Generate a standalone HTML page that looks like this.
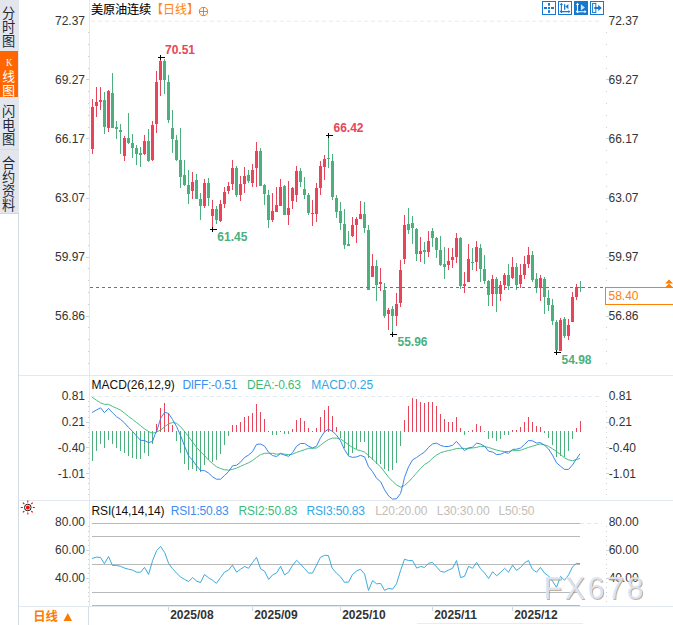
<!DOCTYPE html>
<html><head><meta charset="utf-8"><title>chart</title>
<style>html,body{margin:0;padding:0;background:#fff;}body{width:673px;height:625px;overflow:hidden;font-family:"Liberation Sans",sans-serif;}</style>
</head><body>
<svg width="673" height="625" viewBox="0 0 673 625" style="display:block">
<rect width="673" height="625" fill="#fff"/>
<g shape-rendering="crispEdges">
<rect x="0" y="0" width="19" height="214" fill="#e4e6ee"/>
<rect x="0" y="51" width="18" height="46" fill="#ff6600"/>
<rect x="0" y="149" width="19" height="1" fill="#d3dde6"/>
<rect x="0" y="213" width="19" height="1" fill="#cfd8e1"/>
<rect x="18" y="214" width="1" height="411" fill="#d3dce5"/>
<rect x="19" y="375" width="654" height="1" fill="#e1e8ef"/>
<rect x="19" y="500" width="654" height="1" fill="#e1e8ef"/>
<rect x="19" y="606" width="654" height="1" fill="#e1e8ef"/>
<rect x="89" y="0" width="1" height="606" fill="#e1e8ef"/>
<rect x="88" y="606" width="1" height="19" fill="#d5dde6"/>
<rect x="417" y="623" width="166" height="1" fill="#e6edf3"/>
</g>
<g font-family="Liberation Sans, Noto Sans CJK SC, sans-serif" font-size="13.2" fill="#232a36">
<text x="2.1" y="18.02">分</text>
<text x="2.1" y="32.02">时</text>
<text x="2.1" y="46.02">图</text>
</g>
<text transform="translate(9.1 65.8) scale(0.8 1)" font-family="Liberation Serif, serif" font-size="11" fill="#fff" text-anchor="middle">K</text>
<g font-family="Liberation Sans, Noto Sans CJK SC, sans-serif" font-size="12.8" fill="#fff">
<text x="2.3" y="81.06">线</text>
<text x="2.3" y="95.06">图</text>
</g>
<g font-family="Liberation Sans, Noto Sans CJK SC, sans-serif" font-size="13.2" fill="#232a36">
<text x="2.1" y="116.02">闪</text>
<text x="2.1" y="130.02">电</text>
<text x="2.1" y="144.02">图</text>
<text x="2.1" y="168.02">合</text>
<text x="2.1" y="182.02">约</text>
<text x="2.1" y="196.02">资</text>
<text x="2.1" y="210.02">料</text>
</g>
<text x="91 103 115 127 139" y="14.4" font-family="Liberation Sans, Noto Sans CJK SC, sans-serif" font-size="12.2" fill="#000" stroke="#000" stroke-width="0.1">美原油连续</text>
<text x="151 163 175 187" y="14.3" font-family="Liberation Sans, Noto Sans CJK SC, sans-serif" font-size="12" fill="#ff8418">【日线】</text>
<g stroke="#ff7a00" stroke-width="1" fill="none"><circle cx="203.5" cy="11.5" r="4.2"/><path d="M199.3 11.5H207.7M203.5 7.3V15.7"/></g>
<g>
<rect x="542.5" y="1.5" width="13" height="13" fill="#fff" stroke="#1878d0" stroke-width="1"/>
<g fill="#1878d0"><rect x="548" y="7" width="2" height="2"/><rect x="544" y="7" width="3" height="2"/><rect x="551" y="7" width="3" height="2"/><rect x="548" y="3" width="2" height="2.7"/><rect x="548" y="10.2" width="2" height="2.6"/></g>
<rect x="558.5" y="1.5" width="13" height="13" fill="#fff" stroke="#1878d0" stroke-width="1"/>
<g stroke="#1878d0" stroke-width="1.1" fill="none"><path d="M561.4 3.6V12.4M560.2 11.6H569.6"/></g>
<g fill="#1878d0"><path d="M561.4 2.8L563 5H559.8ZM561.4 13.2L563 11.6H559.8ZM570.4 11.6L568.4 10V13.2ZM559.6 11.6L561 10.2V13Z"/><rect x="564" y="4.2" width="1.3" height="5.6"/><path d="M565.4 6.6L568.4 4V9.2Z"/></g>
<rect x="574" y="1" width="14" height="14" fill="#1878d0"/>
<g stroke="#fff" stroke-width="1.1" fill="none"><path d="M577.5 3.6V12.4M576.2 11.7H585.6"/></g>
<g fill="#fff"><path d="M577.5 2.8L579.1 5H575.9ZM577.5 13.2L579.1 11.7H575.9ZM586.5 11.7L584.5 10.1V13.3ZM575.7 11.7L577.1 10.3V13.1Z"/></g>
<rect x="579" y="4.3" width="1.3" height="6.3" fill="#0f5fb0"/><path d="M580.8 4.3L584.9 7.5L580.8 10.5Z" fill="#cfe4f7"/>
<rect x="590.5" y="1.5" width="13" height="13" fill="#fff" stroke="#1878d0" stroke-width="1"/>
<rect x="592.6" y="3.4" width="3.2" height="9.2" fill="none" stroke="#1878d0" stroke-width="1"/>
<rect x="594.3" y="7" width="4.5" height="2" fill="#1878d0"/><path d="M598.2 4.8L601.8 8L598.2 11Z" fill="#1878d0"/>
</g>
<line x1="91" y1="21.2" x2="602" y2="21.2" stroke="#e4ebf2" stroke-width="1" stroke-dasharray="4 3"/>
<g font-family="Liberation Sans, sans-serif" font-size="12" fill="#333">
<text x="85" y="24.8" text-anchor="end">72.37</text>
<text x="608.5" y="24.8">72.37</text>
<text x="85" y="83.8" text-anchor="end">69.27</text>
<text x="608.5" y="83.8">69.27</text>
<text x="85" y="142.8" text-anchor="end">66.17</text>
<text x="608.5" y="142.8">66.17</text>
<text x="85" y="201.8" text-anchor="end">63.07</text>
<text x="608.5" y="201.8">63.07</text>
<text x="85" y="260.8" text-anchor="end">59.97</text>
<text x="608.5" y="260.8">59.97</text>
<text x="85" y="319.8" text-anchor="end">56.86</text>
<text x="608.5" y="319.8">56.86</text>
</g>
<g shape-rendering="crispEdges" fill="#c9d3dd">
<rect x="88" y="32" width="1" height="1"/><rect x="606" y="32" width="1" height="1"/>
<rect x="88" y="44" width="1" height="1"/><rect x="606" y="44" width="1" height="1"/>
<rect x="88" y="56" width="1" height="1"/><rect x="606" y="56" width="1" height="1"/>
<rect x="88" y="68" width="1" height="1"/><rect x="606" y="68" width="1" height="1"/>
<rect x="86" y="79" width="3" height="1"/><rect x="606" y="79" width="3" height="1"/>
<rect x="88" y="91" width="1" height="1"/><rect x="606" y="91" width="1" height="1"/>
<rect x="88" y="103" width="1" height="1"/><rect x="606" y="103" width="1" height="1"/>
<rect x="88" y="115" width="1" height="1"/><rect x="606" y="115" width="1" height="1"/>
<rect x="88" y="127" width="1" height="1"/><rect x="606" y="127" width="1" height="1"/>
<rect x="86" y="138" width="3" height="1"/><rect x="606" y="138" width="3" height="1"/>
<rect x="88" y="150" width="1" height="1"/><rect x="606" y="150" width="1" height="1"/>
<rect x="88" y="162" width="1" height="1"/><rect x="606" y="162" width="1" height="1"/>
<rect x="88" y="174" width="1" height="1"/><rect x="606" y="174" width="1" height="1"/>
<rect x="88" y="186" width="1" height="1"/><rect x="606" y="186" width="1" height="1"/>
<rect x="86" y="198" width="3" height="1"/><rect x="606" y="198" width="3" height="1"/>
<rect x="88" y="209" width="1" height="1"/><rect x="606" y="209" width="1" height="1"/>
<rect x="88" y="221" width="1" height="1"/><rect x="606" y="221" width="1" height="1"/>
<rect x="88" y="233" width="1" height="1"/><rect x="606" y="233" width="1" height="1"/>
<rect x="88" y="245" width="1" height="1"/><rect x="606" y="245" width="1" height="1"/>
<rect x="86" y="257" width="3" height="1"/><rect x="606" y="257" width="3" height="1"/>
<rect x="88" y="268" width="1" height="1"/><rect x="606" y="268" width="1" height="1"/>
<rect x="88" y="280" width="1" height="1"/><rect x="606" y="280" width="1" height="1"/>
<rect x="88" y="292" width="1" height="1"/><rect x="606" y="292" width="1" height="1"/>
<rect x="88" y="304" width="1" height="1"/><rect x="606" y="304" width="1" height="1"/>
<rect x="86" y="316" width="3" height="1"/><rect x="606" y="316" width="3" height="1"/>
<rect x="88" y="327" width="1" height="1"/><rect x="606" y="327" width="1" height="1"/>
<rect x="88" y="339" width="1" height="1"/><rect x="606" y="339" width="1" height="1"/>
<rect x="88" y="351" width="1" height="1"/><rect x="606" y="351" width="1" height="1"/>
<rect x="88" y="363" width="1" height="1"/><rect x="606" y="363" width="1" height="1"/>
</g>
<g shape-rendering="crispEdges">
<rect x="92" y="99" width="1" height="55" fill="#e8445a"/>
<rect x="91" y="107" width="3" height="42" fill="#e8445a"/>
<rect x="96" y="87" width="1" height="30" fill="#e8445a"/>
<rect x="95" y="102" width="3" height="4" fill="#e8445a"/>
<rect x="100" y="87" width="1" height="23" fill="#e8445a"/>
<rect x="99" y="100" width="3" height="2" fill="#e8445a"/>
<rect x="104" y="92" width="1" height="42" fill="#4caf7d"/>
<rect x="103" y="100" width="3" height="27" fill="#4caf7d"/>
<rect x="108" y="90" width="1" height="42" fill="#e8445a"/>
<rect x="107" y="91" width="3" height="37" fill="#e8445a"/>
<rect x="112" y="73" width="1" height="55" fill="#4caf7d"/>
<rect x="111" y="93" width="3" height="35" fill="#4caf7d"/>
<rect x="116" y="121" width="1" height="18" fill="#4caf7d"/>
<rect x="115" y="127" width="3" height="2" fill="#4caf7d"/>
<rect x="120" y="124" width="1" height="30" fill="#4caf7d"/>
<rect x="119" y="130" width="3" height="2" fill="#4caf7d"/>
<rect x="124" y="136" width="1" height="25" fill="#e8445a"/>
<rect x="123" y="138" width="3" height="18" fill="#e8445a"/>
<rect x="128" y="113" width="1" height="31" fill="#4caf7d"/>
<rect x="127" y="138" width="3" height="5" fill="#4caf7d"/>
<rect x="132" y="134" width="1" height="24" fill="#4caf7d"/>
<rect x="131" y="143" width="3" height="5" fill="#4caf7d"/>
<rect x="136" y="145" width="1" height="20" fill="#4caf7d"/>
<rect x="135" y="148" width="3" height="6" fill="#4caf7d"/>
<rect x="140" y="147" width="1" height="20" fill="#4caf7d"/>
<rect x="139" y="153" width="3" height="2" fill="#4caf7d"/>
<rect x="144" y="135" width="1" height="20" fill="#e8445a"/>
<rect x="143" y="141" width="3" height="13" fill="#e8445a"/>
<rect x="148" y="129" width="1" height="33" fill="#4caf7d"/>
<rect x="147" y="141" width="3" height="20" fill="#4caf7d"/>
<rect x="152" y="121" width="1" height="40" fill="#e8445a"/>
<rect x="151" y="125" width="3" height="35" fill="#e8445a"/>
<rect x="156" y="71" width="1" height="62" fill="#e8445a"/>
<rect x="155" y="82" width="3" height="42" fill="#e8445a"/>
<rect x="160" y="57" width="1" height="39" fill="#e8445a"/>
<rect x="159" y="61" width="3" height="19" fill="#e8445a"/>
<rect x="164" y="59" width="1" height="35" fill="#4caf7d"/>
<rect x="163" y="61" width="3" height="19" fill="#4caf7d"/>
<rect x="168" y="75" width="1" height="48" fill="#4caf7d"/>
<rect x="167" y="82" width="3" height="38" fill="#4caf7d"/>
<rect x="172" y="110" width="1" height="43" fill="#4caf7d"/>
<rect x="171" y="128" width="3" height="11" fill="#4caf7d"/>
<rect x="176" y="135" width="1" height="26" fill="#4caf7d"/>
<rect x="175" y="140" width="3" height="20" fill="#4caf7d"/>
<rect x="180" y="128" width="1" height="60" fill="#4caf7d"/>
<rect x="179" y="160" width="3" height="17" fill="#4caf7d"/>
<rect x="184" y="160" width="1" height="26" fill="#4caf7d"/>
<rect x="183" y="175" width="3" height="10" fill="#4caf7d"/>
<rect x="188" y="170" width="1" height="34" fill="#4caf7d"/>
<rect x="187" y="185" width="3" height="9" fill="#4caf7d"/>
<rect x="192" y="172" width="1" height="27" fill="#e8445a"/>
<rect x="191" y="182" width="3" height="9" fill="#e8445a"/>
<rect x="196" y="174" width="1" height="25" fill="#4caf7d"/>
<rect x="195" y="180" width="3" height="19" fill="#4caf7d"/>
<rect x="200" y="193" width="1" height="27" fill="#4caf7d"/>
<rect x="199" y="199" width="3" height="7" fill="#4caf7d"/>
<rect x="204" y="179" width="1" height="29" fill="#e8445a"/>
<rect x="203" y="183" width="3" height="23" fill="#e8445a"/>
<rect x="208" y="178" width="1" height="28" fill="#4caf7d"/>
<rect x="207" y="183" width="3" height="15" fill="#4caf7d"/>
<rect x="212" y="200" width="1" height="29" fill="#e8445a"/>
<rect x="211" y="209" width="3" height="7" fill="#e8445a"/>
<rect x="216" y="206" width="1" height="18" fill="#4caf7d"/>
<rect x="215" y="209" width="3" height="11" fill="#4caf7d"/>
<rect x="220" y="200" width="1" height="22" fill="#e8445a"/>
<rect x="219" y="204" width="3" height="17" fill="#e8445a"/>
<rect x="224" y="187" width="1" height="21" fill="#e8445a"/>
<rect x="223" y="192" width="3" height="12" fill="#e8445a"/>
<rect x="228" y="182" width="1" height="12" fill="#e8445a"/>
<rect x="227" y="186" width="3" height="5" fill="#e8445a"/>
<rect x="232" y="160" width="1" height="30" fill="#e8445a"/>
<rect x="231" y="168" width="3" height="16" fill="#e8445a"/>
<rect x="236" y="166" width="1" height="31" fill="#4caf7d"/>
<rect x="235" y="168" width="3" height="27" fill="#4caf7d"/>
<rect x="240" y="176" width="1" height="25" fill="#e8445a"/>
<rect x="239" y="184" width="3" height="11" fill="#e8445a"/>
<rect x="244" y="167" width="1" height="26" fill="#e8445a"/>
<rect x="243" y="176" width="3" height="8" fill="#e8445a"/>
<rect x="248" y="170" width="1" height="13" fill="#4caf7d"/>
<rect x="247" y="175" width="3" height="6" fill="#4caf7d"/>
<rect x="252" y="164" width="1" height="23" fill="#e8445a"/>
<rect x="251" y="170" width="3" height="13" fill="#e8445a"/>
<rect x="256" y="142" width="1" height="45" fill="#e8445a"/>
<rect x="255" y="151" width="3" height="17" fill="#e8445a"/>
<rect x="260" y="148" width="1" height="38" fill="#4caf7d"/>
<rect x="259" y="151" width="3" height="35" fill="#4caf7d"/>
<rect x="264" y="184" width="1" height="21" fill="#4caf7d"/>
<rect x="263" y="185" width="3" height="9" fill="#4caf7d"/>
<rect x="268" y="190" width="1" height="38" fill="#4caf7d"/>
<rect x="267" y="195" width="3" height="25" fill="#4caf7d"/>
<rect x="272" y="193" width="1" height="29" fill="#e8445a"/>
<rect x="271" y="211" width="3" height="9" fill="#e8445a"/>
<rect x="276" y="187" width="1" height="25" fill="#e8445a"/>
<rect x="275" y="205" width="3" height="7" fill="#e8445a"/>
<rect x="280" y="179" width="1" height="27" fill="#e8445a"/>
<rect x="279" y="187" width="3" height="19" fill="#e8445a"/>
<rect x="284" y="185" width="1" height="30" fill="#4caf7d"/>
<rect x="283" y="186" width="3" height="29" fill="#4caf7d"/>
<rect x="288" y="181" width="1" height="44" fill="#e8445a"/>
<rect x="287" y="208" width="3" height="7" fill="#e8445a"/>
<rect x="292" y="187" width="1" height="22" fill="#e8445a"/>
<rect x="291" y="188" width="3" height="13" fill="#e8445a"/>
<rect x="296" y="166" width="1" height="36" fill="#e8445a"/>
<rect x="295" y="171" width="3" height="24" fill="#e8445a"/>
<rect x="300" y="168" width="1" height="19" fill="#4caf7d"/>
<rect x="299" y="171" width="3" height="11" fill="#4caf7d"/>
<rect x="304" y="177" width="1" height="22" fill="#4caf7d"/>
<rect x="303" y="189" width="3" height="6" fill="#4caf7d"/>
<rect x="308" y="193" width="1" height="22" fill="#4caf7d"/>
<rect x="307" y="195" width="3" height="18" fill="#4caf7d"/>
<rect x="312" y="200" width="1" height="26" fill="#e8445a"/>
<rect x="311" y="213" width="3" height="1" fill="#e8445a"/>
<rect x="316" y="183" width="1" height="39" fill="#e8445a"/>
<rect x="315" y="188" width="3" height="26" fill="#e8445a"/>
<rect x="320" y="161" width="1" height="34" fill="#e8445a"/>
<rect x="319" y="166" width="3" height="22" fill="#e8445a"/>
<rect x="324" y="155" width="1" height="25" fill="#e8445a"/>
<rect x="323" y="159" width="3" height="8" fill="#e8445a"/>
<rect x="328" y="136" width="1" height="32" fill="#4caf7d"/>
<rect x="327" y="158" width="3" height="1" fill="#4caf7d"/>
<rect x="332" y="154" width="1" height="46" fill="#4caf7d"/>
<rect x="331" y="161" width="3" height="36" fill="#4caf7d"/>
<rect x="336" y="195" width="1" height="23" fill="#4caf7d"/>
<rect x="335" y="198" width="3" height="14" fill="#4caf7d"/>
<rect x="340" y="202" width="1" height="28" fill="#4caf7d"/>
<rect x="339" y="211" width="3" height="12" fill="#4caf7d"/>
<rect x="344" y="209" width="1" height="40" fill="#4caf7d"/>
<rect x="343" y="224" width="3" height="21" fill="#4caf7d"/>
<rect x="348" y="231" width="1" height="15" fill="#4caf7d"/>
<rect x="347" y="244" width="3" height="2" fill="#4caf7d"/>
<rect x="352" y="217" width="1" height="20" fill="#e8445a"/>
<rect x="351" y="225" width="3" height="11" fill="#e8445a"/>
<rect x="356" y="217" width="1" height="26" fill="#e8445a"/>
<rect x="355" y="219" width="3" height="6" fill="#e8445a"/>
<rect x="360" y="201" width="1" height="18" fill="#e8445a"/>
<rect x="359" y="214" width="3" height="5" fill="#e8445a"/>
<rect x="364" y="202" width="1" height="31" fill="#4caf7d"/>
<rect x="363" y="214" width="3" height="14" fill="#4caf7d"/>
<rect x="368" y="225" width="1" height="65" fill="#4caf7d"/>
<rect x="367" y="230" width="3" height="60" fill="#4caf7d"/>
<rect x="372" y="254" width="1" height="23" fill="#e8445a"/>
<rect x="371" y="266" width="3" height="11" fill="#e8445a"/>
<rect x="376" y="260" width="1" height="41" fill="#4caf7d"/>
<rect x="375" y="266" width="3" height="19" fill="#4caf7d"/>
<rect x="380" y="268" width="1" height="23" fill="#e8445a"/>
<rect x="379" y="282" width="3" height="2" fill="#e8445a"/>
<rect x="384" y="283" width="1" height="35" fill="#4caf7d"/>
<rect x="383" y="290" width="3" height="26" fill="#4caf7d"/>
<rect x="388" y="308" width="1" height="22" fill="#e8445a"/>
<rect x="387" y="310" width="3" height="4" fill="#e8445a"/>
<rect x="392" y="306" width="1" height="28" fill="#4caf7d"/>
<rect x="391" y="309" width="3" height="7" fill="#4caf7d"/>
<rect x="396" y="293" width="1" height="33" fill="#e8445a"/>
<rect x="395" y="304" width="3" height="12" fill="#e8445a"/>
<rect x="400" y="260" width="1" height="47" fill="#e8445a"/>
<rect x="399" y="270" width="3" height="33" fill="#e8445a"/>
<rect x="404" y="215" width="1" height="49" fill="#e8445a"/>
<rect x="403" y="225" width="3" height="34" fill="#e8445a"/>
<rect x="408" y="208" width="1" height="26" fill="#4caf7d"/>
<rect x="407" y="224" width="3" height="6" fill="#4caf7d"/>
<rect x="412" y="216" width="1" height="28" fill="#4caf7d"/>
<rect x="411" y="223" width="3" height="5" fill="#4caf7d"/>
<rect x="416" y="228" width="1" height="33" fill="#4caf7d"/>
<rect x="415" y="229" width="3" height="25" fill="#4caf7d"/>
<rect x="420" y="237" width="1" height="25" fill="#e8445a"/>
<rect x="419" y="251" width="3" height="3" fill="#e8445a"/>
<rect x="424" y="242" width="1" height="22" fill="#4caf7d"/>
<rect x="423" y="250" width="3" height="2" fill="#4caf7d"/>
<rect x="428" y="231" width="1" height="26" fill="#e8445a"/>
<rect x="427" y="241" width="3" height="11" fill="#e8445a"/>
<rect x="432" y="228" width="1" height="19" fill="#4caf7d"/>
<rect x="431" y="231" width="3" height="7" fill="#4caf7d"/>
<rect x="436" y="237" width="1" height="21" fill="#4caf7d"/>
<rect x="435" y="238" width="3" height="12" fill="#4caf7d"/>
<rect x="440" y="236" width="1" height="30" fill="#4caf7d"/>
<rect x="439" y="250" width="3" height="15" fill="#4caf7d"/>
<rect x="444" y="247" width="1" height="32" fill="#4caf7d"/>
<rect x="443" y="264" width="3" height="3" fill="#4caf7d"/>
<rect x="448" y="248" width="1" height="22" fill="#e8445a"/>
<rect x="447" y="261" width="3" height="4" fill="#e8445a"/>
<rect x="452" y="248" width="1" height="20" fill="#e8445a"/>
<rect x="451" y="257" width="3" height="3" fill="#e8445a"/>
<rect x="456" y="233" width="1" height="30" fill="#e8445a"/>
<rect x="455" y="238" width="3" height="19" fill="#e8445a"/>
<rect x="460" y="237" width="1" height="52" fill="#4caf7d"/>
<rect x="459" y="238" width="3" height="48" fill="#4caf7d"/>
<rect x="464" y="272" width="1" height="21" fill="#e8445a"/>
<rect x="463" y="284" width="3" height="2" fill="#e8445a"/>
<rect x="468" y="244" width="1" height="38" fill="#e8445a"/>
<rect x="467" y="259" width="3" height="23" fill="#e8445a"/>
<rect x="472" y="248" width="1" height="22" fill="#4caf7d"/>
<rect x="471" y="262" width="3" height="1" fill="#4caf7d"/>
<rect x="476" y="241" width="1" height="30" fill="#e8445a"/>
<rect x="475" y="247" width="3" height="15" fill="#e8445a"/>
<rect x="480" y="244" width="1" height="38" fill="#4caf7d"/>
<rect x="479" y="248" width="3" height="21" fill="#4caf7d"/>
<rect x="484" y="255" width="1" height="29" fill="#4caf7d"/>
<rect x="483" y="269" width="3" height="12" fill="#4caf7d"/>
<rect x="488" y="280" width="1" height="26" fill="#4caf7d"/>
<rect x="487" y="281" width="3" height="14" fill="#4caf7d"/>
<rect x="492" y="275" width="1" height="31" fill="#e8445a"/>
<rect x="491" y="279" width="3" height="15" fill="#e8445a"/>
<rect x="496" y="277" width="1" height="35" fill="#4caf7d"/>
<rect x="495" y="279" width="3" height="15" fill="#4caf7d"/>
<rect x="500" y="281" width="1" height="20" fill="#e8445a"/>
<rect x="499" y="285" width="3" height="9" fill="#e8445a"/>
<rect x="504" y="273" width="1" height="17" fill="#e8445a"/>
<rect x="503" y="275" width="3" height="10" fill="#e8445a"/>
<rect x="508" y="264" width="1" height="26" fill="#4caf7d"/>
<rect x="507" y="275" width="3" height="11" fill="#4caf7d"/>
<rect x="512" y="257" width="1" height="22" fill="#e8445a"/>
<rect x="511" y="267" width="3" height="11" fill="#e8445a"/>
<rect x="516" y="263" width="1" height="27" fill="#4caf7d"/>
<rect x="515" y="267" width="3" height="18" fill="#4caf7d"/>
<rect x="520" y="264" width="1" height="24" fill="#e8445a"/>
<rect x="519" y="275" width="3" height="9" fill="#e8445a"/>
<rect x="524" y="256" width="1" height="23" fill="#e8445a"/>
<rect x="523" y="264" width="3" height="11" fill="#e8445a"/>
<rect x="528" y="247" width="1" height="21" fill="#e8445a"/>
<rect x="527" y="255" width="3" height="9" fill="#e8445a"/>
<rect x="532" y="251" width="1" height="31" fill="#4caf7d"/>
<rect x="531" y="255" width="3" height="25" fill="#4caf7d"/>
<rect x="536" y="273" width="1" height="20" fill="#4caf7d"/>
<rect x="535" y="279" width="3" height="9" fill="#4caf7d"/>
<rect x="540" y="275" width="1" height="26" fill="#e8445a"/>
<rect x="539" y="278" width="3" height="10" fill="#e8445a"/>
<rect x="544" y="277" width="1" height="37" fill="#4caf7d"/>
<rect x="543" y="279" width="3" height="18" fill="#4caf7d"/>
<rect x="548" y="290" width="1" height="21" fill="#4caf7d"/>
<rect x="547" y="298" width="3" height="7" fill="#4caf7d"/>
<rect x="552" y="299" width="1" height="26" fill="#4caf7d"/>
<rect x="551" y="305" width="3" height="16" fill="#4caf7d"/>
<rect x="556" y="320" width="1" height="32" fill="#4caf7d"/>
<rect x="555" y="322" width="3" height="28" fill="#4caf7d"/>
<rect x="560" y="318" width="1" height="33" fill="#e8445a"/>
<rect x="559" y="320" width="3" height="31" fill="#e8445a"/>
<rect x="564" y="317" width="1" height="21" fill="#4caf7d"/>
<rect x="563" y="319" width="3" height="17" fill="#4caf7d"/>
<rect x="568" y="319" width="1" height="21" fill="#e8445a"/>
<rect x="567" y="325" width="3" height="11" fill="#e8445a"/>
<rect x="572" y="292" width="1" height="30" fill="#e8445a"/>
<rect x="571" y="297" width="3" height="25" fill="#e8445a"/>
<rect x="576" y="284" width="1" height="16" fill="#e8445a"/>
<rect x="575" y="287" width="3" height="10" fill="#e8445a"/>
<rect x="580" y="281" width="1" height="11" fill="#4caf7d"/>
<rect x="579" y="287" width="3" height="1" fill="#4caf7d"/>
</g>
<line x1="90" y1="287.5" x2="605" y2="287.5" stroke="#1c86ee" stroke-width="1" stroke-dasharray="3 3"/>
<rect x="605.5" y="287.5" width="70" height="17" fill="#fff" stroke="#ff8000" stroke-width="1"/>
<text x="608.5" y="300" font-family="Liberation Sans, sans-serif" font-size="12" fill="#ff8000">58.40</text>
<path d="M665 283.5L669 279.5L673 283.5ZM665 287.5L669 283.5L673 287.5Z" fill="#ff8000"/>
<g shape-rendering="crispEdges" fill="#000"><rect x="158.0" y="57.0" width="7" height="1"/><rect x="160.0" y="55.0" width="1" height="4.5"/></g>
<g shape-rendering="crispEdges" fill="#000"><rect x="210.0" y="229.0" width="7" height="1"/><rect x="212.0" y="227.0" width="1" height="4.5"/></g>
<g shape-rendering="crispEdges" fill="#000"><rect x="326.0" y="135.0" width="7" height="1"/><rect x="328.0" y="133.0" width="1" height="4.5"/></g>
<g shape-rendering="crispEdges" fill="#000"><rect x="390.0" y="334.0" width="7" height="1"/><rect x="392.0" y="332.0" width="1" height="4.5"/></g>
<g shape-rendering="crispEdges" fill="#000"><rect x="554.0" y="352.0" width="7" height="1"/><rect x="556.0" y="350.0" width="1" height="4.5"/></g>
<g font-family="Liberation Sans, sans-serif" font-size="12" font-weight="bold">
<text x="165" y="54" fill="#e8445a">70.51</text>
<text x="333.5" y="132" fill="#e8445a">66.42</text>
<text x="217.3" y="241" fill="#4caf7d">61.45</text>
<text x="397.5" y="346" fill="#4caf7d">55.96</text>
<text x="561.5" y="363.8" fill="#4caf7d">54.98</text>
</g>
<g font-family="Liberation Sans, sans-serif" font-size="12">
<text x="91.5" y="389" fill="#111">MACD(26,12,9)</text>
<text x="182.4" y="389" fill="#3d8ef0" textLength="55">DIFF:-0.51</text>
<text x="247" y="389" fill="#3dbb7a" textLength="54">DEA:-0.63</text>
<text x="311.2" y="389" fill="#35a6e6" textLength="62">MACD:0.25</text>
<text x="85" y="400.3" text-anchor="end" fill="#333">0.81</text>
<text x="608.7" y="400.3" fill="#333">0.81</text>
<text x="85" y="426.3" text-anchor="end" fill="#333">0.21</text>
<text x="608.7" y="426.3" fill="#333">0.21</text>
<text x="85" y="452.3" text-anchor="end" fill="#333">-0.40</text>
<text x="608.7" y="452.3" fill="#333">-0.40</text>
<text x="85" y="477.8" text-anchor="end" fill="#333">-1.01</text>
<text x="608.7" y="477.8" fill="#333">-1.01</text>
</g>
<line x1="91" y1="396.5" x2="602" y2="396.5" stroke="#e4ebf2" stroke-width="1" stroke-dasharray="4 3"/>
<g shape-rendering="crispEdges" fill="#c9d3dd">
<rect x="88" y="401" width="1" height="1"/><rect x="606" y="401" width="1" height="1"/>
<rect x="88" y="406" width="1" height="1"/><rect x="606" y="406" width="1" height="1"/>
<rect x="88" y="411" width="1" height="1"/><rect x="606" y="411" width="1" height="1"/>
<rect x="88" y="417" width="1" height="1"/><rect x="606" y="417" width="1" height="1"/>
<rect x="86" y="422" width="3" height="1"/><rect x="606" y="422" width="3" height="1"/>
<rect x="88" y="427" width="1" height="1"/><rect x="606" y="427" width="1" height="1"/>
<rect x="88" y="432" width="1" height="1"/><rect x="606" y="432" width="1" height="1"/>
<rect x="88" y="437" width="1" height="1"/><rect x="606" y="437" width="1" height="1"/>
<rect x="88" y="442" width="1" height="1"/><rect x="606" y="442" width="1" height="1"/>
<rect x="86" y="447" width="3" height="1"/><rect x="606" y="447" width="3" height="1"/>
<rect x="88" y="453" width="1" height="1"/><rect x="606" y="453" width="1" height="1"/>
<rect x="88" y="458" width="1" height="1"/><rect x="606" y="458" width="1" height="1"/>
<rect x="88" y="463" width="1" height="1"/><rect x="606" y="463" width="1" height="1"/>
<rect x="88" y="468" width="1" height="1"/><rect x="606" y="468" width="1" height="1"/>
<rect x="86" y="473" width="3" height="1"/><rect x="606" y="473" width="3" height="1"/>
<rect x="88" y="478" width="1" height="1"/><rect x="606" y="478" width="1" height="1"/>
<rect x="88" y="483" width="1" height="1"/><rect x="606" y="483" width="1" height="1"/>
<rect x="88" y="489" width="1" height="1"/><rect x="606" y="489" width="1" height="1"/>
<rect x="88" y="494" width="1" height="1"/><rect x="606" y="494" width="1" height="1"/>
</g>
<g shape-rendering="crispEdges">
<rect x="92.0" y="431" width="1" height="30" fill="#4caf7d"/>
<rect x="96.0" y="431" width="1" height="20" fill="#4caf7d"/>
<rect x="100.0" y="431" width="1" height="13" fill="#4caf7d"/>
<rect x="104.0" y="431" width="1" height="17" fill="#4caf7d"/>
<rect x="108.0" y="431" width="1" height="9" fill="#4caf7d"/>
<rect x="112.0" y="431" width="1" height="13" fill="#4caf7d"/>
<rect x="116.0" y="431" width="1" height="17" fill="#4caf7d"/>
<rect x="120.0" y="431" width="1" height="20" fill="#4caf7d"/>
<rect x="124.0" y="431" width="1" height="22" fill="#4caf7d"/>
<rect x="128.0" y="431" width="1" height="25" fill="#4caf7d"/>
<rect x="132.0" y="431" width="1" height="27" fill="#4caf7d"/>
<rect x="136.0" y="431" width="1" height="28" fill="#4caf7d"/>
<rect x="140.0" y="431" width="1" height="28" fill="#4caf7d"/>
<rect x="144.0" y="431" width="1" height="22" fill="#4caf7d"/>
<rect x="148.0" y="431" width="1" height="25" fill="#4caf7d"/>
<rect x="152.0" y="431" width="1" height="13" fill="#4caf7d"/>
<rect x="156.0" y="424" width="1" height="8" fill="#e8445a"/>
<rect x="160.0" y="408" width="1" height="24" fill="#e8445a"/>
<rect x="164.0" y="403" width="1" height="29" fill="#e8445a"/>
<rect x="168.0" y="413" width="1" height="19" fill="#e8445a"/>
<rect x="172.0" y="425" width="1" height="7" fill="#e8445a"/>
<rect x="176.0" y="431" width="1" height="10" fill="#4caf7d"/>
<rect x="180.0" y="431" width="1" height="22" fill="#4caf7d"/>
<rect x="184.0" y="431" width="1" height="33" fill="#4caf7d"/>
<rect x="188.0" y="431" width="1" height="39" fill="#4caf7d"/>
<rect x="192.0" y="431" width="1" height="38" fill="#4caf7d"/>
<rect x="196.0" y="431" width="1" height="40" fill="#4caf7d"/>
<rect x="200.0" y="431" width="1" height="41" fill="#4caf7d"/>
<rect x="204.0" y="431" width="1" height="34" fill="#4caf7d"/>
<rect x="208.0" y="431" width="1" height="29" fill="#4caf7d"/>
<rect x="212.0" y="431" width="1" height="31" fill="#4caf7d"/>
<rect x="216.0" y="431" width="1" height="29" fill="#4caf7d"/>
<rect x="220.0" y="431" width="1" height="23" fill="#4caf7d"/>
<rect x="224.0" y="431" width="1" height="14" fill="#4caf7d"/>
<rect x="228.0" y="431" width="1" height="5" fill="#4caf7d"/>
<rect x="232.0" y="425" width="1" height="7" fill="#e8445a"/>
<rect x="236.0" y="425" width="1" height="7" fill="#e8445a"/>
<rect x="240.0" y="422" width="1" height="10" fill="#e8445a"/>
<rect x="244.0" y="417" width="1" height="15" fill="#e8445a"/>
<rect x="248.0" y="416" width="1" height="16" fill="#e8445a"/>
<rect x="252.0" y="413" width="1" height="19" fill="#e8445a"/>
<rect x="256.0" y="404" width="1" height="28" fill="#e8445a"/>
<rect x="260.0" y="412" width="1" height="20" fill="#e8445a"/>
<rect x="264.0" y="419" width="1" height="13" fill="#e8445a"/>
<rect x="268.0" y="431" width="1" height="1" fill="#e8445a"/>
<rect x="272.0" y="431" width="1" height="4" fill="#4caf7d"/>
<rect x="276.0" y="431" width="1" height="4" fill="#4caf7d"/>
<rect x="280.0" y="431" width="1" height="1" fill="#e8445a"/>
<rect x="284.0" y="431" width="1" height="3" fill="#4caf7d"/>
<rect x="288.0" y="431" width="1" height="3" fill="#4caf7d"/>
<rect x="292.0" y="429" width="1" height="3" fill="#e8445a"/>
<rect x="296.0" y="420" width="1" height="12" fill="#e8445a"/>
<rect x="300.0" y="418" width="1" height="14" fill="#e8445a"/>
<rect x="304.0" y="421" width="1" height="11" fill="#e8445a"/>
<rect x="308.0" y="428" width="1" height="4" fill="#e8445a"/>
<rect x="312.0" y="431" width="1" height="1" fill="#e8445a"/>
<rect x="316.0" y="428" width="1" height="4" fill="#e8445a"/>
<rect x="320.0" y="417" width="1" height="15" fill="#e8445a"/>
<rect x="324.0" y="410" width="1" height="22" fill="#e8445a"/>
<rect x="328.0" y="406" width="1" height="26" fill="#e8445a"/>
<rect x="332.0" y="416" width="1" height="16" fill="#e8445a"/>
<rect x="336.0" y="427" width="1" height="5" fill="#e8445a"/>
<rect x="340.0" y="431" width="1" height="7" fill="#4caf7d"/>
<rect x="344.0" y="431" width="1" height="17" fill="#4caf7d"/>
<rect x="348.0" y="431" width="1" height="24" fill="#4caf7d"/>
<rect x="352.0" y="431" width="1" height="22" fill="#4caf7d"/>
<rect x="356.0" y="431" width="1" height="18" fill="#4caf7d"/>
<rect x="360.0" y="431" width="1" height="11" fill="#4caf7d"/>
<rect x="364.0" y="431" width="1" height="11" fill="#4caf7d"/>
<rect x="368.0" y="431" width="1" height="27" fill="#4caf7d"/>
<rect x="372.0" y="431" width="1" height="29" fill="#4caf7d"/>
<rect x="376.0" y="431" width="1" height="33" fill="#4caf7d"/>
<rect x="380.0" y="431" width="1" height="33" fill="#4caf7d"/>
<rect x="384.0" y="431" width="1" height="38" fill="#4caf7d"/>
<rect x="388.0" y="431" width="1" height="40" fill="#4caf7d"/>
<rect x="392.0" y="431" width="1" height="39" fill="#4caf7d"/>
<rect x="396.0" y="431" width="1" height="32" fill="#4caf7d"/>
<rect x="400.0" y="431" width="1" height="15" fill="#4caf7d"/>
<rect x="404.0" y="420" width="1" height="12" fill="#e8445a"/>
<rect x="408.0" y="406" width="1" height="26" fill="#e8445a"/>
<rect x="412.0" y="398" width="1" height="34" fill="#e8445a"/>
<rect x="416.0" y="399" width="1" height="33" fill="#e8445a"/>
<rect x="420.0" y="402" width="1" height="30" fill="#e8445a"/>
<rect x="424.0" y="403" width="1" height="29" fill="#e8445a"/>
<rect x="428.0" y="402" width="1" height="30" fill="#e8445a"/>
<rect x="432.0" y="402" width="1" height="30" fill="#e8445a"/>
<rect x="436.0" y="406" width="1" height="26" fill="#e8445a"/>
<rect x="440.0" y="414" width="1" height="18" fill="#e8445a"/>
<rect x="444.0" y="419" width="1" height="13" fill="#e8445a"/>
<rect x="448.0" y="422" width="1" height="10" fill="#e8445a"/>
<rect x="452.0" y="422" width="1" height="10" fill="#e8445a"/>
<rect x="456.0" y="417" width="1" height="15" fill="#e8445a"/>
<rect x="460.0" y="428" width="1" height="4" fill="#e8445a"/>
<rect x="464.0" y="431" width="1" height="4" fill="#4caf7d"/>
<rect x="468.0" y="431" width="1" height="1" fill="#e8445a"/>
<rect x="472.0" y="430" width="1" height="2" fill="#e8445a"/>
<rect x="476.0" y="424" width="1" height="8" fill="#e8445a"/>
<rect x="480.0" y="426" width="1" height="6" fill="#e8445a"/>
<rect x="484.0" y="431" width="1" height="1" fill="#4caf7d"/>
<rect x="488.0" y="431" width="1" height="8" fill="#4caf7d"/>
<rect x="492.0" y="431" width="1" height="7" fill="#4caf7d"/>
<rect x="496.0" y="431" width="1" height="10" fill="#4caf7d"/>
<rect x="500.0" y="431" width="1" height="8" fill="#4caf7d"/>
<rect x="504.0" y="431" width="1" height="4" fill="#4caf7d"/>
<rect x="508.0" y="431" width="1" height="4" fill="#4caf7d"/>
<rect x="512.0" y="430" width="1" height="2" fill="#e8445a"/>
<rect x="516.0" y="430" width="1" height="2" fill="#e8445a"/>
<rect x="520.0" y="427" width="1" height="5" fill="#e8445a"/>
<rect x="524.0" y="422" width="1" height="10" fill="#e8445a"/>
<rect x="528.0" y="417" width="1" height="15" fill="#e8445a"/>
<rect x="532.0" y="422" width="1" height="10" fill="#e8445a"/>
<rect x="536.0" y="426" width="1" height="6" fill="#e8445a"/>
<rect x="540.0" y="427" width="1" height="5" fill="#e8445a"/>
<rect x="544.0" y="431" width="1" height="2" fill="#4caf7d"/>
<rect x="548.0" y="431" width="1" height="7" fill="#4caf7d"/>
<rect x="552.0" y="431" width="1" height="14" fill="#4caf7d"/>
<rect x="556.0" y="431" width="1" height="26" fill="#4caf7d"/>
<rect x="560.0" y="431" width="1" height="25" fill="#4caf7d"/>
<rect x="564.0" y="431" width="1" height="26" fill="#4caf7d"/>
<rect x="568.0" y="431" width="1" height="20" fill="#4caf7d"/>
<rect x="572.0" y="431" width="1" height="8" fill="#4caf7d"/>
<rect x="576.0" y="428" width="1" height="4" fill="#e8445a"/>
<rect x="580.0" y="421" width="1" height="11" fill="#e8445a"/>
</g>
<polyline points="91.9,397.1 96.4,400.2 100.5,402.8 104.4,404.3 108.5,404.3 112.4,406.4 116.5,408.2 120.5,410.1 124.6,413.2 128.5,416.4 132.6,419.4 136.5,422.5 140.6,425.7 144.5,428.9 148.6,431.5 152.6,433.3 156.7,431.9 160.6,430.1 164.7,426.6 168.6,423.9 172.5,422.5 176.6,423.3 180.5,426.6 184.6,431.4 188.6,436.7 192.7,442.1 196.6,447.4 200.7,451.9 204.5,455.6 208.4,459.9 212.5,463.5 216.4,466.7 220.5,468.5 224.4,469.7 228.5,470.2 232.5,469.4 236.6,468.1 240.5,466.3 244.6,464.5 248.5,462.8 252.6,460.4 256.5,457.4 260.6,454.6 264.6,453.3 268.7,453.3 272.6,453.3 276.7,454.2 280.6,453.8 284.5,454.2 288.6,454.6 292.5,454.2 296.6,452.4 300.6,451.0 304.7,449.7 308.6,448.3 312.5,448.3 316.5,448.0 320.4,445.3 324.5,442.1 328.4,439.6 332.5,438.1 336.4,438.1 340.5,439.0 344.5,441.7 348.6,444.9 352.5,447.4 356.6,449.7 360.5,450.6 364.6,452.1 368.5,455.6 372.6,459.2 376.6,463.1 380.7,467.0 384.6,472.0 388.7,477.4 392.6,481.3 396.5,484.9 400.6,487.2 404.5,485.4 408.6,481.8 412.6,477.4 416.7,472.9 420.6,468.5 424.5,464.5 428.5,462.2 432.4,458.3 436.5,455.1 440.4,452.8 444.5,451.5 448.4,450.6 452.5,449.7 456.5,448.5 460.6,448.3 464.5,448.5 468.6,448.3 472.5,448.0 476.6,447.4 480.5,446.3 484.6,446.7 488.6,447.4 492.7,448.8 496.6,450.1 500.7,451.0 504.6,451.5 508.5,451.5 512.6,450.6 516.5,450.6 520.6,450.3 524.6,448.8 528.5,447.4 532.4,446.2 536.5,444.9 540.4,444.0 544.5,444.9 548.4,446.2 552.5,448.8 556.5,451.5 560.6,454.6 564.5,457.8 568.6,459.9 572.5,460.8 576.6,459.5 580.0,458.3" fill="none" stroke="#3dbb7a" stroke-width="0.95" stroke-linejoin="round"/>
<polyline points="91.9,412.6 96.4,410.1 100.5,407.8 104.4,412.6 108.5,408.4 112.4,412.6 116.5,416.7 120.5,419.4 124.6,423.0 128.5,427.4 132.6,431.4 136.5,436.0 140.6,440.3 144.5,440.5 148.6,442.6 152.6,441.4 154.9,434.6 156.7,431.4 160.6,418.5 164.7,412.3 168.6,413.5 172.5,419.4 176.6,426.6 180.5,435.5 184.6,446.2 188.6,456.0 192.7,460.4 196.6,465.8 200.7,470.6 204.5,470.6 208.4,472.9 212.5,476.8 216.4,479.2 220.5,479.2 224.4,475.6 228.5,471.7 232.5,465.8 236.6,465.2 240.5,462.2 244.6,457.4 248.5,455.1 252.6,451.5 256.5,444.4 260.6,444.0 264.6,446.2 268.7,452.4 272.6,455.6 276.7,456.5 280.6,453.3 284.5,455.1 288.6,456.3 292.5,452.8 296.6,446.2 300.6,443.5 304.7,443.5 308.6,446.2 312.5,448.0 316.5,446.2 320.4,438.1 324.5,431.9 328.4,429.2 332.5,431.4 336.4,434.9 340.5,440.8 344.5,449.7 348.6,456.0 352.5,457.4 356.6,456.9 360.5,455.4 364.6,456.9 368.5,466.7 372.6,471.7 376.6,478.3 380.7,481.8 384.6,489.9 388.7,496.1 392.6,499.1 396.5,498.8 400.6,493.4 402.9,484.5 404.5,477.4 408.6,466.7 412.6,459.9 416.7,457.4 420.6,454.6 424.5,452.1 428.5,447.4 432.4,444.0 436.5,443.1 440.4,445.3 444.5,446.5 448.4,446.5 452.5,445.3 456.5,441.4 460.6,446.2 464.5,450.6 468.6,448.0 472.5,447.1 476.6,443.1 480.5,444.0 484.6,446.2 488.6,451.2 492.7,452.1 496.6,454.6 500.7,454.2 504.6,452.4 508.5,453.3 512.6,449.4 516.5,449.2 520.6,448.0 524.6,444.4 528.5,440.5 532.4,440.8 536.5,443.0 540.4,442.6 544.5,445.3 548.4,448.8 552.5,455.1 556.5,462.8 560.6,466.3 564.5,469.4 568.6,469.4 572.5,464.9 576.6,458.7 580.0,453.8" fill="none" stroke="#2d80f2" stroke-width="0.95" stroke-linejoin="round"/>
<g shape-rendering="crispEdges" fill="#b9b9b9">
<rect x="92" y="523" width="488" height="1"/>
<rect x="92" y="536" width="488" height="1"/>
<rect x="92" y="564" width="488" height="1"/>
<rect x="92" y="592" width="488" height="1"/>
<rect x="92" y="605" width="488" height="1"/>
</g>
<line x1="580" y1="523.5" x2="602" y2="523.5" stroke="#e4ebf2" stroke-width="1" stroke-dasharray="4 3"/>
<g font-family="Liberation Sans, sans-serif" font-size="12">
<text x="91.5" y="514.6" fill="#111" textLength="73">RSI(14,14,14)</text>
<text x="170.7" y="514.6" fill="#3d8ef0" textLength="58">RSI1:50.83</text>
<text x="238.4" y="514.6" fill="#3dbb7a" textLength="59">RSI2:50.83</text>
<text x="306.5" y="514.6" fill="#35a6e6" textLength="58.5">RSI3:50.83</text>
<text x="375.3" y="514.6" fill="#c4bdb8" textLength="52.2">L20:20.00</text>
<text x="436.8" y="514.6" fill="#c4bdb8" textLength="52.8">L30:30.00</text>
<text x="498.5" y="514.6" fill="#c4bdb8" textLength="36">L50:50</text>
<text x="85" y="526.3" text-anchor="end" fill="#333">80.00</text>
<text x="608.7" y="526.3" fill="#333">80.00</text>
<text x="85" y="554.3" text-anchor="end" fill="#333">60.00</text>
<text x="608.7" y="554.3" fill="#333">60.00</text>
<text x="85" y="581.8" text-anchor="end" fill="#333">40.00</text>
<text x="608.7" y="581.8" fill="#333">40.00</text>
</g>
<g shape-rendering="crispEdges" fill="#c9d3dd">
<rect x="88" y="526" width="1" height="1"/><rect x="606" y="526" width="1" height="1"/>
<rect x="88" y="531" width="1" height="1"/><rect x="606" y="531" width="1" height="1"/>
<rect x="88" y="536" width="1" height="1"/><rect x="606" y="536" width="1" height="1"/>
<rect x="88" y="540" width="1" height="1"/><rect x="606" y="540" width="1" height="1"/>
<rect x="88" y="545" width="1" height="1"/><rect x="606" y="545" width="1" height="1"/>
<rect x="86" y="550" width="3" height="1"/><rect x="606" y="550" width="3" height="1"/>
<rect x="88" y="554" width="1" height="1"/><rect x="606" y="554" width="1" height="1"/>
<rect x="88" y="559" width="1" height="1"/><rect x="606" y="559" width="1" height="1"/>
<rect x="88" y="564" width="1" height="1"/><rect x="606" y="564" width="1" height="1"/>
<rect x="88" y="568" width="1" height="1"/><rect x="606" y="568" width="1" height="1"/>
<rect x="88" y="573" width="1" height="1"/><rect x="606" y="573" width="1" height="1"/>
<rect x="86" y="578" width="3" height="1"/><rect x="606" y="578" width="3" height="1"/>
<rect x="88" y="582" width="1" height="1"/><rect x="606" y="582" width="1" height="1"/>
<rect x="88" y="587" width="1" height="1"/><rect x="606" y="587" width="1" height="1"/>
<rect x="88" y="592" width="1" height="1"/><rect x="606" y="592" width="1" height="1"/>
<rect x="88" y="596" width="1" height="1"/><rect x="606" y="596" width="1" height="1"/>
<rect x="88" y="601" width="1" height="1"/><rect x="606" y="601" width="1" height="1"/>
</g>
<polyline points="91.9,558.5 96.4,557.1 100.5,557.4 104.4,563.7 108.5,556.5 112.4,565.4 116.5,565.4 120.5,566.3 124.6,568.1 128.5,569.2 132.6,570.1 136.5,572.2 140.6,572.2 144.5,567.4 148.6,574.4 152.6,560.6 156.7,550.5 160.6,546.4 164.7,552.6 168.6,563.3 172.5,568.7 176.6,573.1 180.5,577.0 184.6,579.4 188.6,581.5 192.7,577.6 196.6,581.1 200.5,582.6 204.5,574.5 208.4,577.6 212.5,580.2 216.4,583.3 220.5,577.6 224.4,572.2 228.5,570.1 232.5,565.1 236.6,572.2 240.5,569.2 244.6,566.5 248.5,568.3 252.6,562.4 256.5,557.4 260.6,568.7 264.6,571.3 268.7,579.4 272.6,574.9 276.7,572.8 280.6,566.3 284.5,574.9 288.6,572.2 292.5,565.4 296.6,560.3 300.6,564.2 304.7,568.7 308.6,573.1 312.5,573.1 316.5,565.1 320.4,557.4 324.5,555.3 328.4,555.6 332.1,568.1 336.4,573.1 340.5,576.7 344.5,582.4 348.6,582.0 352.5,574.5 356.6,571.0 360.5,569.2 364.6,574.0 368.5,590.4 372.6,580.6 376.6,583.8 380.7,583.5 384.6,590.4 388.7,588.3 392.6,589.2 396.5,583.8 400.6,570.4 404.5,559.2 408.6,560.6 412.6,560.6 416.7,568.1 420.6,566.5 424.5,567.4 428.5,563.3 432.4,562.4 436.5,566.9 440.4,571.3 444.5,572.2 448.4,570.1 452.5,568.3 456.5,560.6 460.6,577.6 464.5,576.3 468.6,566.3 472.5,568.3 476.6,562.4 480.5,568.7 484.6,573.1 488.6,578.5 492.7,571.7 496.6,575.8 500.7,572.2 504.6,568.3 508.5,572.2 512.6,565.1 516.5,570.4 520.6,567.4 524.6,562.8 528.5,560.6 532.4,569.2 536.5,572.2 540.4,567.4 544.5,573.1 548.4,575.8 552.5,581.1 556.5,587.4 560.6,576.3 564.5,580.2 568.6,574.9 572.5,566.9 576.6,563.3 580.0,563.7" fill="none" stroke="#2ea6de" stroke-width="0.95" stroke-linejoin="round"/>
<g><circle cx="27.8" cy="507.5" r="3.3" fill="none" stroke="#000" stroke-width="0.9"/><circle cx="27.8" cy="507.5" r="1.9" fill="#f00"/>
<path d="M32.8 507.5L34.8 507.5M31.3 511.0L32.7 512.4M27.8 512.5L27.8 514.5M24.3 511.0L22.9 512.4M22.8 507.5L20.8 507.5M24.3 504.0L22.9 502.6M27.8 502.5L27.8 500.5M31.3 504.0L32.7 502.6" stroke="#f00" stroke-width="1.1" fill="none"/></g>
<g shape-rendering="crispEdges" fill="#cfd8e0">
<rect x="168" y="607" width="1" height="4"/>
<rect x="252" y="607" width="1" height="4"/>
<rect x="340" y="607" width="1" height="4"/>
<rect x="432" y="607" width="1" height="4"/>
<rect x="512" y="607" width="1" height="4"/>
</g>
<g font-family="Liberation Sans, sans-serif" font-size="12" font-weight="bold" fill="#333">
<text x="170.2" y="619">2025/08</text>
<text x="254.2" y="619">2025/09</text>
<text x="342.2" y="619">2025/10</text>
<text x="434.2" y="619">2025/11</text>
<text x="514.2" y="619">2025/12</text>
</g>
<text x="33.2 45.4" y="620.8" font-family="Liberation Sans, Noto Sans CJK SC, sans-serif" font-size="12.4" font-weight="bold" fill="#ff7a00">日线</text>
<path d="M63.5 621L67.8 613L72 621Z" fill="#ff7a00"/>
<text x="543.6" y="599.3" font-family="Liberation Sans, sans-serif" font-size="30.5" letter-spacing="2.5" fill="#dbe6f6" fill-opacity="0.93" style="filter:drop-shadow(1px 1px 0.6px rgba(150,115,80,0.6))">FX678</text>
</svg>
</body></html>
